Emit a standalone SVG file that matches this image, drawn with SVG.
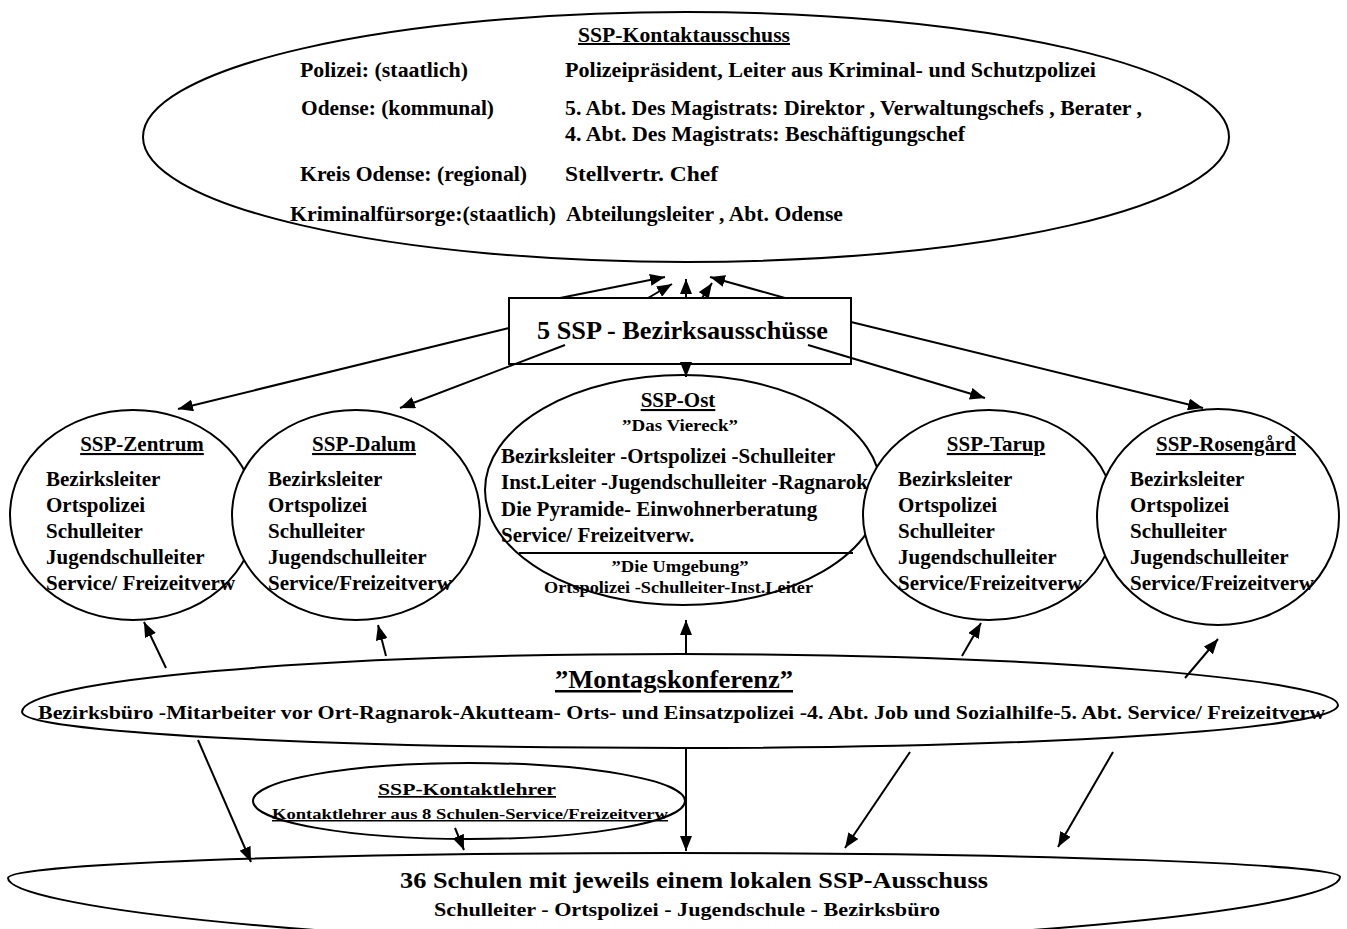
<svg xmlns="http://www.w3.org/2000/svg" width="1347" height="929" viewBox="0 0 1347 929">
<defs>
<marker id="ah" markerUnits="userSpaceOnUse" markerWidth="15" markerHeight="12" refX="15" refY="6" orient="auto">
<path d="M0,0 L15,6 L0,12 Z" fill="#000"/>
</marker>
<style>
.shape{fill:#fff;stroke:#000;stroke-width:2}
.c{fill:none;stroke:#000;stroke-width:2;marker-end:url(#ah)}
text{font-family:"Liberation Serif","Times New Roman",serif;font-weight:bold;fill:#000}
.t21{font-size:21px}
.t20{font-size:20px}
.u{text-decoration:underline}
.m{text-anchor:middle}
</style>
</defs>
<rect width="1347" height="929" fill="#fff"/>

<g id="kontaktausschuss">
<ellipse class="shape" cx="686" cy="137" rx="543" ry="125"/>
<text class="t20 u" x="578" y="42" textLength="212" lengthAdjust="spacingAndGlyphs">SSP-Kontaktausschuss</text>
<text class="t20" x="300" y="77" textLength="168" lengthAdjust="spacingAndGlyphs">Polizei: (staatlich)</text>
<text class="t20" x="565" y="77" textLength="531" lengthAdjust="spacingAndGlyphs">Polizeipräsident, Leiter aus Kriminal- und Schutzpolizei</text>
<text class="t20" x="301" y="115" textLength="193" lengthAdjust="spacingAndGlyphs">Odense: (kommunal)</text>
<text class="t20" x="565" y="115" textLength="577" lengthAdjust="spacingAndGlyphs">5. Abt. Des Magistrats: Direktor , Verwaltungschefs , Berater ,</text>
<text class="t20" x="565" y="141" textLength="400" lengthAdjust="spacingAndGlyphs">4. Abt. Des Magistrats: Beschäftigungschef</text>
<text class="t20" x="300" y="181" textLength="227" lengthAdjust="spacingAndGlyphs">Kreis Odense: (regional)</text>
<text class="t20" x="565" y="181" textLength="153" lengthAdjust="spacingAndGlyphs">Stellvertr.   Chef</text>
<text class="t20" x="290" y="221" textLength="266" lengthAdjust="spacingAndGlyphs">Kriminalfürsorge:(staatlich)</text>
<text class="t20" x="566" y="221" textLength="277" lengthAdjust="spacingAndGlyphs">Abteilungsleiter , Abt. Odense</text>
</g>

<g id="bezirksausschuesse">
<rect class="shape" x="509" y="298" width="342" height="66"/>
<text x="537" y="339" font-size="26" textLength="291" lengthAdjust="spacingAndGlyphs">5 SSP - Bezirksausschüsse</text>
</g>

<g id="zentrum">
<ellipse class="shape" cx="133" cy="515" rx="123" ry="105"/>
<text class="t21 u m" x="142" y="451">SSP-Zentrum</text>
<text class="t21" x="46" y="486">Bezirksleiter</text>
<text class="t21" x="46" y="512">Ortspolizei</text>
<text class="t21" x="46" y="538">Schulleiter</text>
<text class="t21" x="46" y="564">Jugendschulleiter</text>
<text class="t21" x="46" y="590">Service/ Freizeitverw</text>
</g>

<g id="dalum">
<ellipse class="shape" cx="356" cy="515" rx="124" ry="105"/>
<text class="t21 u m" x="364" y="451">SSP-Dalum</text>
<text class="t21" x="268" y="486">Bezirksleiter</text>
<text class="t21" x="268" y="512">Ortspolizei</text>
<text class="t21" x="268" y="538">Schulleiter</text>
<text class="t21" x="268" y="564">Jugendschulleiter</text>
<text class="t21" x="268" y="590">Service/Freizeitverw</text>
</g>

<g id="ost">
<ellipse class="shape" cx="683" cy="490" rx="198" ry="115"/>
<text class="t21 u m" x="678" y="407">SSP-Ost</text>
<text class="m" x="680" y="431" font-size="17" textLength="116" lengthAdjust="spacingAndGlyphs">”Das Viereck”</text>
<text class="t21" x="501" y="463">Bezirksleiter -Ortspolizei -Schulleiter</text>
<text class="t21" x="501" y="489">Inst.Leiter -Jugendschulleiter -Ragnarok</text>
<text class="t21" x="501" y="516">Die Pyramide-  Einwohnerberatung</text>
<text class="t21" x="501" y="542">Service/ Freizeitverw.</text>
<line x1="519" y1="553" x2="853" y2="553" stroke="#000" stroke-width="2"/>
<text class="m" x="680" y="572" font-size="17" textLength="137" lengthAdjust="spacingAndGlyphs">”Die Umgebung”</text>
<text x="544" y="593" font-size="17" textLength="269" lengthAdjust="spacingAndGlyphs">Ortspolizei -Schulleiter-Inst.Leiter</text>
</g>

<g id="tarup">
<ellipse class="shape" cx="989" cy="515" rx="126" ry="105"/>
<text class="t21 u m" x="996" y="451">SSP-Tarup</text>
<text class="t21" x="898" y="486">Bezirksleiter</text>
<text class="t21" x="898" y="512">Ortspolizei</text>
<text class="t21" x="898" y="538">Schulleiter</text>
<text class="t21" x="898" y="564">Jugendschulleiter</text>
<text class="t21" x="898" y="590">Service/Freizeitverw</text>
</g>

<g id="rosengaard">
<ellipse class="shape" cx="1218" cy="517" rx="121" ry="108"/>
<text class="t21 u m" x="1226" y="451">SSP-Rosengård</text>
<text class="t21" x="1130" y="486">Bezirksleiter</text>
<text class="t21" x="1130" y="512">Ortspolizei</text>
<text class="t21" x="1130" y="538">Schulleiter</text>
<text class="t21" x="1130" y="564">Jugendschulleiter</text>
<text class="t21" x="1130" y="590">Service/Freizeitverw</text>
</g>

<g id="montagskonferenz">
<path class="shape" d="M22,712 C22,680 317,654 680,654 C1043,654 1338,680 1338,705 C1338,729 1043,748 680,748 C317,748 22,732 22,712 Z"/>
<text class="u" x="555" y="688" font-size="25" textLength="238" lengthAdjust="spacingAndGlyphs">”Montagskonferenz”</text>
<text x="38" y="719" font-size="18" textLength="1287" lengthAdjust="spacingAndGlyphs">Bezirksbüro -Mitarbeiter vor Ort-Ragnarok-Akutteam- Orts- und Einsatzpolizei -4. Abt. Job und Sozialhilfe-5. Abt. Service/ Freizeitverw</text>
</g>

<g id="kontaktlehrer">
<ellipse class="shape" cx="469" cy="801" rx="216" ry="38"/>
<text class="u m" x="467" y="795" font-size="17" textLength="178" lengthAdjust="spacingAndGlyphs">SSP-Kontaktlehrer</text>
<text class="u" x="272" y="819" font-size="15" textLength="396" lengthAdjust="spacingAndGlyphs">Kontaktlehrer aus 8 Schulen-Service/Freizeitverw</text>
</g>

<g id="schulen">
<path class="shape" d="M8,878 C8,864 306,853 674,853 C1042,853 1340,864 1340,877 C1340,905 1042,942 674,942 C306,942 8,905 8,878 Z"/>
<text x="400" y="888" font-size="23" textLength="588" lengthAdjust="spacingAndGlyphs">36 Schulen mit jeweils einem lokalen SSP-Ausschuss</text>
<text x="434" y="916" font-size="18" textLength="506" lengthAdjust="spacingAndGlyphs">Schulleiter  - Ortspolizei  - Jugendschule  - Bezirksbüro</text>
</g>

<g id="connectors">
<line class="c" x1="560" y1="298" x2="665" y2="277"/>
<line class="c" x1="648" y1="298" x2="672" y2="284"/>
<line class="c" x1="686" y1="298" x2="686" y2="279"/>
<line class="c" x1="702" y1="298" x2="712" y2="283"/>
<line class="c" x1="785" y1="298" x2="710" y2="277"/>
<line class="c" x1="509" y1="328" x2="178" y2="409"/>
<line class="c" x1="565" y1="345" x2="400" y2="408"/>
<line class="c" x1="686" y1="364" x2="686" y2="377"/>
<line class="c" x1="808" y1="345" x2="985" y2="398"/>
<line class="c" x1="851" y1="322" x2="1203" y2="408"/>
<line class="c" x1="166" y1="668" x2="144" y2="622"/>
<line class="c" x1="386" y1="656" x2="378" y2="625"/>
<line class="c" x1="686" y1="654" x2="686" y2="620"/>
<line class="c" x1="962" y1="656" x2="981" y2="623"/>
<line class="c" x1="1185" y1="678" x2="1218" y2="639"/>
<line class="c" x1="198" y1="740" x2="251" y2="862"/>
<line class="c" x1="686" y1="748" x2="686" y2="851"/>
<line class="c" x1="910" y1="752" x2="845" y2="848"/>
<line class="c" x1="1113" y1="752" x2="1058" y2="847"/>
<line class="c" x1="455" y1="828" x2="464" y2="850"/>
</g>
</svg>
